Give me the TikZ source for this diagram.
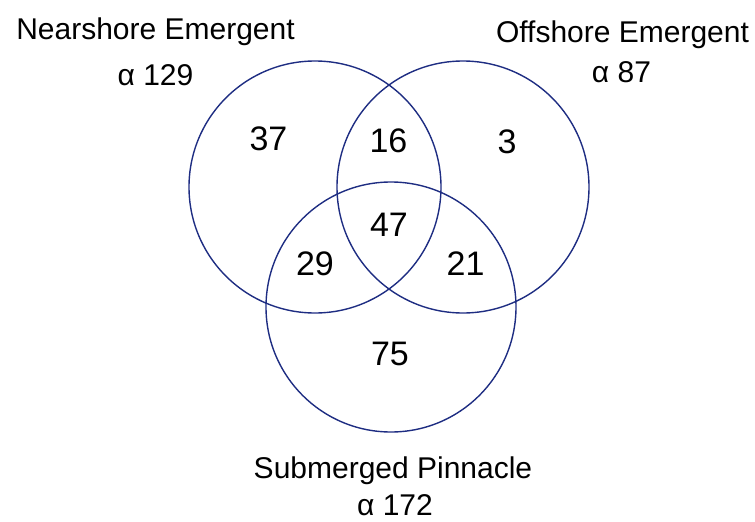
\documentclass[tikz,border=0pt]{standalone}
\usepackage{fontspec}
\setmainfont{Liberation Sans}
\definecolor{vennblue}{RGB}{30,45,130}
\begin{document}
\begin{tikzpicture}[x=1pt,y=-1pt,
  ring/.style={circle,draw=vennblue,line width=1.4pt,inner sep=0pt,minimum size=252pt},
  lab/.style={anchor=base,inner sep=0pt,font=\fontsize{30}{34}\selectfont},
  num/.style={anchor=base,inner sep=0pt,font=\fontsize{34}{38}\selectfont}]
\useasboundingbox (0,0) rectangle (755,522);
\node[ring] (c1) at (315,187) {};
\node[ring] (c2) at (463,187) {};
\node[ring,minimum size=250pt] (c3) at (391,307) {};
\node[lab] (l1) at (155.5,39) {Nearshore Emergent};
\node[lab] (a1) at (155.5,85) {α 129};
\node[lab] (l2) at (622.5,42) {Offshore Emergent};
\node[lab] (a2) at (621.5,82) {α 87};
\node[lab] (l3) at (393,478) {Submerged Pinnacle};
\node[lab] (a3) at (395,515) {α 172};
\node[num] (n37) at (268.5,150) {37};
\node[num] (n16) at (388.5,152) {16};
\node[num] (n3) at (507,153) {3};
\node[num] (n47) at (389,236.5) {47};
\node[num] (n29) at (315,275) {29};
\node[num] (n21) at (465.5,275) {21};
\node[num] (n75) at (390,365) {75};
\end{tikzpicture}
\end{document}
